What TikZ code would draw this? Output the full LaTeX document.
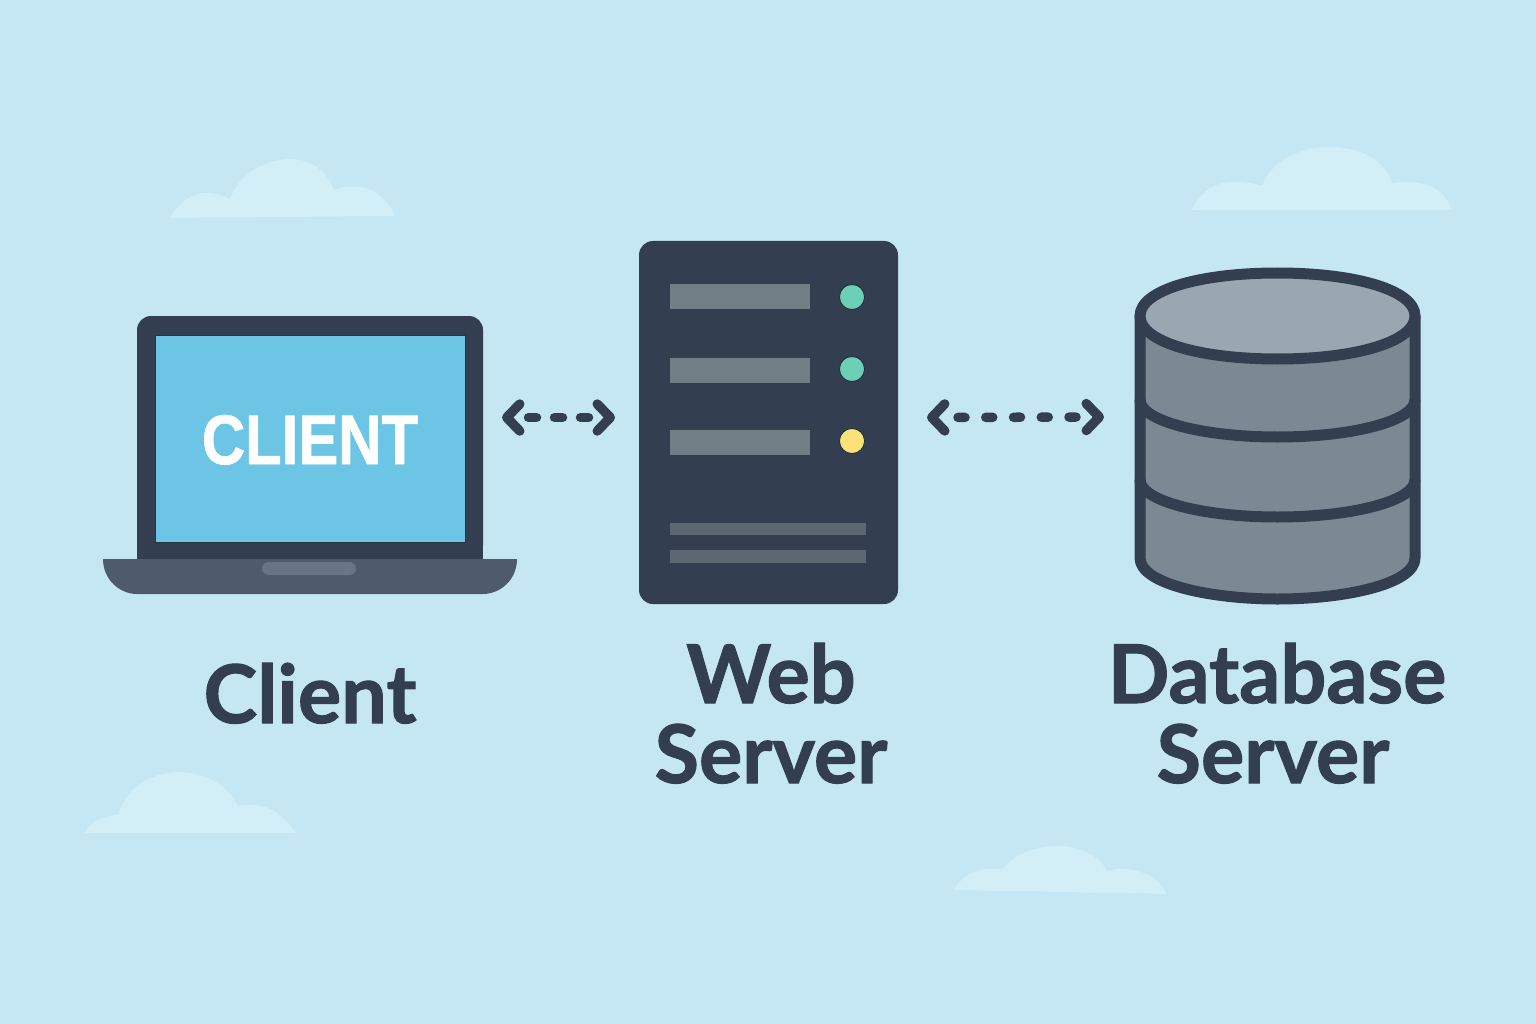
\documentclass[tikz,border=0pt]{standalone}
\usepackage{fontspec}
\setmainfont{Lato}[BoldFeatures={FakeBold=1.3}]
\newfontfamily\scrfont{Liberation Sans}[BoldFeatures={FakeBold=1.2}]
\usetikzlibrary{arrows.meta}
\definecolor{sky}{HTML}{C4E7F3}
\definecolor{cloudc}{HTML}{D2EEF6}
\definecolor{ink}{HTML}{333F50}
\definecolor{scr}{HTML}{6DC5E6}
\definecolor{basec}{HTML}{4D5B6C}
\definecolor{padc}{HTML}{687585}
\definecolor{barc}{HTML}{727E86}
\definecolor{thinc}{HTML}{5C6771}
\definecolor{grn}{HTML}{6BD0B6}
\definecolor{yel}{HTML}{F9E27A}
\definecolor{dbtop}{HTML}{9AA6B2}
\definecolor{dbside}{HTML}{7B8994}
\tikzset{
  cloudshape/.style={fill=cloudc,draw=none},
  box/.style={rectangle,inner sep=0pt,outer sep=0pt},
  lid/.style={box,fill=ink,rounded corners=14pt,minimum width=346pt,minimum height=243pt},
  screenbox/.style={box,fill=scr,draw=ink!85!black,line width=.8pt,minimum width=310pt,minimum height=207pt},
  srv/.style={box,fill=ink,rounded corners=14pt,minimum width=259pt,minimum height=363pt},
  slot/.style={box,fill=barc,minimum width=140pt,minimum height=25pt},
  thinbar/.style={box,fill=thinc,minimum width=196pt,minimum height=12.5pt},
  led/.style={circle,inner sep=0pt,outer sep=0pt,minimum size=25pt,draw=ink!70!black,line width=.8pt},
  label/.style={text=ink,anchor=base,inner sep=0pt,font=\fontsize{81}{81}\selectfont\bfseries},
  conn/.style={draw=ink,line width=9.5pt,line cap=round,
    {Straight Barb[round,length=13pt,width=27pt,line width=9.5pt]}-{Straight Barb[round,length=13pt,width=27pt,line width=9.5pt]}},
  dbline/.style={draw=ink,line width=11pt,line cap=round,line join=round},
}
\begin{document}
\begin{tikzpicture}[x=1pt,y=-1pt]
\useasboundingbox (0,0) rectangle (1536,1024);
\fill[sky] (0,0) rectangle (1536,1024);
% clouds
\fill[cloudshape] (170,218) .. controls (180,200) and (195,192) .. (207,193) .. controls (217,193) and (225,196) .. (230,199) .. controls (238,175) and (265,159) .. (290,159) .. controls (312,159) and (327,172) .. (334,190) .. controls (345,185) and (365,185) .. (375,192) .. controls (385,199) and (392,208) .. (395,216) -- cycle;
\fill[cloudshape] (1192,210) .. controls (1200,192) and (1215,182) .. (1232,182) .. controls (1245,182) and (1255,183) .. (1262,186) .. controls (1272,160) and (1300,147) .. (1330,147) .. controls (1360,147) and (1385,160) .. (1392,183) .. controls (1410,180) and (1430,183) .. (1440,192) .. controls (1446,198) and (1450,204) .. (1452,210) -- cycle;
\fill[cloudshape] (85,833) .. controls (90,822) and (100,816) .. (118,815) .. controls (125,790) and (150,772) .. (178,772) .. controls (205,772) and (228,785) .. (238,806) .. controls (258,802) and (278,806) .. (296,833) -- cycle;
\fill[cloudshape] (954,890) .. controls (962,875) and (978,866) .. (1003,869) .. controls (1012,855) and (1035,846) .. (1057,846) .. controls (1080,846) and (1100,856) .. (1107,871) .. controls (1130,865) and (1155,872) .. (1167,894) -- cycle;
% laptop
\fill[ink] (137,530) rectangle (483,560);
\node[lid] (lid) at (310,437.5) {};
\node[screenbox] (screen) at (310,439) {};
\node[text=white,inner sep=0pt,anchor=base] (cl) at (310,464) {\scrfont\fontsize{70}{70}\selectfont\bfseries\scalebox{.855}[1]{CLIENT}};
\draw[fill=basec,draw=none] (103,559) -- (517,559) .. controls (517,580) and (500,594) .. (483,594) -- (137,594) .. controls (120,594) and (103,580) .. (103,559) -- cycle;
\node[box,fill=padc,rounded corners=6.5pt,minimum width=94pt,minimum height=13pt] (pad) at (309,568.5) {};
\node[label] (lclient) at (310,723) {Client};
% server
\node[srv] (server) at (768.5,422.5) {};
\node[slot] (s1) at (740,296.5) {};
\node[slot] (s2) at (740,370) {};
\node[slot] (s3) at (740,442) {};
\node[led,fill=grn] (l1) at (852,297) {};
\node[led,fill=grn] (l2) at (852,369) {};
\node[led,fill=yel] (l3) at (852,441) {};
\node[thinbar] (t1) at (768,529) {};
\node[thinbar] (t2) at (768,556.5) {};
\node[label] (lweb) at (771,703) {Web};
\node[label] (lsrv) at (771,783) {Server};
% database
\node[box,minimum width=285pt,minimum height=338pt] (db) at (1277.5,436) {};
\fill[dbside] (1140,316) -- (1140,558) arc[start angle=180,end angle=360,x radius=137.5,y radius=-41] -- (1415,316) -- cycle;
\draw[dbline] (1140,316) -- (1140,558) .. controls (1140,584) and (1210,599) .. (1277.5,599) .. controls (1345,599) and (1415,584) .. (1415,558) -- (1415,316);
\draw[dbline] (1140,400) arc[start angle=180,end angle=360,x radius=137.5,y radius=-37];
\draw[dbline] (1140,480) arc[start angle=180,end angle=360,x radius=137.5,y radius=-37];
\draw[dbline,fill=dbtop] (1140,316) .. controls (1140,290) and (1200,273) .. (1277.5,273) .. controls (1355,273) and (1415,290) .. (1415,316) .. controls (1415,342) and (1355,359) .. (1277.5,359) .. controls (1200,359) and (1140,342) .. (1140,316) -- cycle;
\node[label] (ldb) at (1277,703) {Database};
\node[label] (lsrv2) at (1273,783) {Server};
% connectors
\draw[conn,dash pattern=on 8pt off 18pt on 8pt off 18pt on 8pt off 60pt,dash phase=103pt] ([shift={(19,-20)}]lid.east) -- ([shift={(-24,-5)}]server.west);
\draw[conn,dash pattern=on 7pt off 20.75pt on 7pt off 20.75pt on 7pt off 20.75pt on 7pt off 20.75pt on 7pt off 60pt,dash phase=156.5pt] ([shift={(29,-5)}]server.east) -- ([shift={(-31,-19)}]db.west);
\end{tikzpicture}
\end{document}
